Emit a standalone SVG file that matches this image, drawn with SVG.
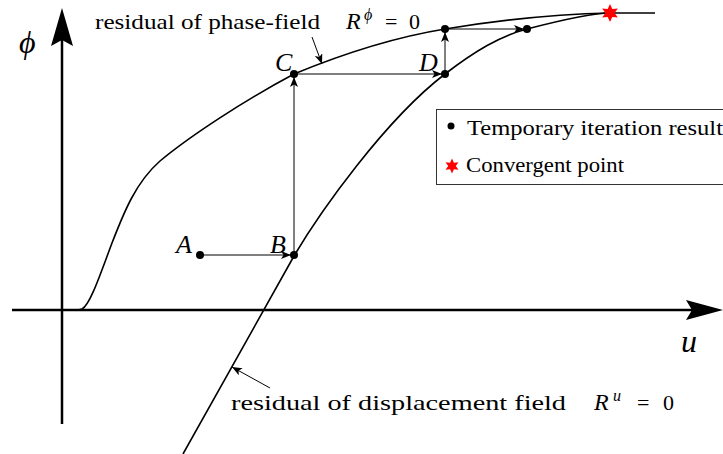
<svg xmlns="http://www.w3.org/2000/svg" width="723" height="454" viewBox="0 0 723 454">
<style>
.axis{stroke:#000;stroke-width:2.5;fill:none}
.curve{stroke:#000;stroke-width:1.6;fill:none}
.conn{stroke:#000;stroke-width:1;fill:none;marker-end:url(#ah)}
.dot{fill:#000}
.star{fill:#ff0000}
.t{font-family:"Liberation Serif","DejaVu Serif",serif;font-size:22px;fill:#000}
.it{font-family:"Liberation Serif","DejaVu Serif",serif;font-style:italic;font-size:24px;fill:#000}
.pt{font-size:26px}
.big{font-size:32px}
.sup{font-size:16px}
.lg{font-family:"Liberation Serif","DejaVu Serif",serif;font-size:20px;fill:#000}
</style>
<defs>
<marker id="ah" viewBox="0 0 10 8" refX="10" refY="4" markerWidth="10" markerHeight="8" markerUnits="userSpaceOnUse" orient="auto">
<path d="M0,0 L10,4 L0,8 L2.5,4 Z" fill="#000"/>
</marker>
<polygon id="star6" points="0,-9 2.3,-4 7.8,-4.5 4.6,0 7.8,4.5 2.3,4 0,9 -2.3,4 -7.8,4.5 -4.6,0 -7.8,-4.5 -2.3,-4"/>
<polygon id="star6s" points="0,-7.5 1.9,-3.3 6.5,-3.75 3.8,0 6.5,3.75 1.9,3.3 0,7.5 -1.9,3.3 -6.5,3.75 -3.8,0 -6.5,-3.75 -1.9,-3.3"/>
</defs>

<g id="axes">
<line class="axis" x1="62" y1="424" x2="62" y2="30"/>
<path d="M62,8 L73,46 L62,40 L51,46 Z" fill="#000"/>
<line class="axis" x1="12" y1="310" x2="700" y2="310"/>
<path d="M723,310 L686,320 L692,310 L686,300 Z" fill="#000"/>
<text class="it big" x="19" y="53">ϕ</text>
<text class="it big" x="681" y="352">u</text>
</g>

<g id="phase-curve">
<path class="curve" d="M78,310 L82,309 C90,305 100,275 112,243 C124,212 136,182 160,161 C190,136 245,100 294,74 C340,55 390,38 445,29 C500,20 560,14 610,13 L655,13"/>
</g>

<g id="disp-curve">
<path class="curve" d="M183,454 L294,256 C320,212 385,120 445,74 C475,51 500,36 527,29 C554,22 590,13 610,13"/>
</g>

<g id="connectors">
<line class="conn" x1="200" y1="255" x2="291" y2="255"/>
<line class="conn" x1="294" y1="255" x2="294" y2="77"/>
<line class="conn" x1="294" y1="74" x2="442" y2="74"/>
<line class="conn" x1="445" y1="74" x2="445" y2="32"/>
<line class="conn" x1="445" y1="29" x2="524" y2="29"/>
<line class="conn" x1="312" y1="37" x2="322" y2="64"/>
<line class="conn" x1="270" y1="388" x2="232" y2="367"/>
</g>

<g id="A"><circle class="dot" cx="200" cy="255" r="4"/><text class="it pt" x="176" y="253">A</text></g>
<g id="B"><circle class="dot" cx="294" cy="255" r="4"/><text class="it pt" x="270" y="253">B</text></g>
<g id="C"><circle class="dot" cx="294" cy="74" r="4"/><text class="it pt" x="275" y="71">C</text></g>
<g id="D"><circle class="dot" cx="445" cy="74" r="4"/><text class="it pt" x="419" y="71">D</text></g>
<g id="E"><circle class="dot" cx="445" cy="29" r="4"/></g>
<g id="F"><circle class="dot" cx="527" cy="29" r="4"/></g>
<g id="conv"><use href="#star6" class="star" x="610" y="13"/></g>

<g id="label-phase">
<text class="t" x="95" y="29" textLength="225" lengthAdjust="spacingAndGlyphs">residual of phase-field</text>
<text class="it" x="346" y="29">R</text>
<text class="it sup" x="364" y="20">ϕ</text>
<text class="t" x="385" y="29" textLength="35" lengthAdjust="spacing">= 0</text>
</g>

<g id="label-disp">
<text class="t" x="231" y="410" textLength="335" lengthAdjust="spacingAndGlyphs">residual of displacement field</text>
<text class="it" x="594" y="410">R</text>
<text class="it sup" x="613" y="401">u</text>
<text class="t" x="637" y="410" textLength="37" lengthAdjust="spacing">= 0</text>
</g>

<g id="legend">
<rect x="436.5" y="109.5" width="300" height="75" fill="#fff" stroke="#333" stroke-width="1"/>
<circle class="dot" cx="451" cy="126" r="3.5"/>
<text class="lg" x="467" y="135" textLength="256" lengthAdjust="spacingAndGlyphs">Temporary iteration result</text>
<use href="#star6s" class="star" x="452" y="166"/>
<text class="lg" x="466" y="172" textLength="158" lengthAdjust="spacingAndGlyphs">Convergent point</text>
</g>
</svg>
